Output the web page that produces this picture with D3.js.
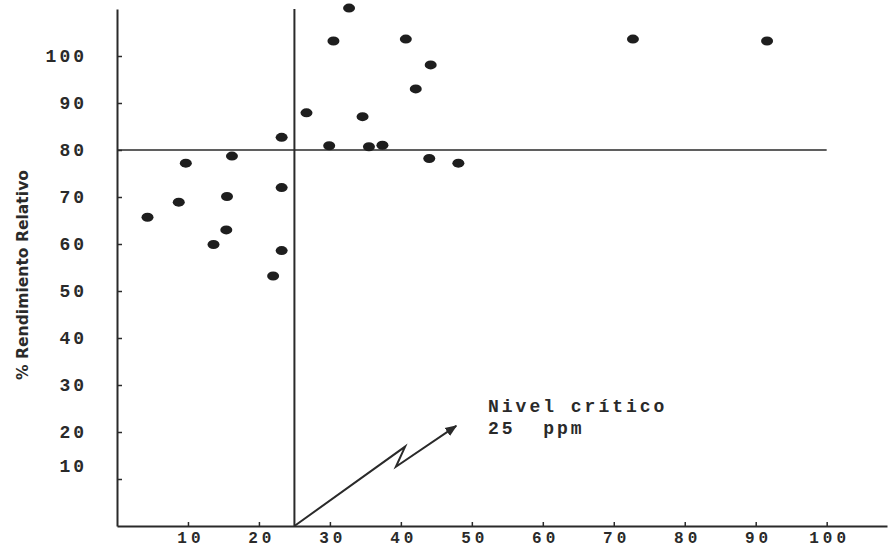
<!DOCTYPE html>
<html>
<head>
<meta charset="utf-8">
<script src="https://cdn.jsdelivr.net/npm/d3@7"></script>
<style>
  body { margin: 0; background: #fff; }
  .tickText { font-family: "Liberation Mono", monospace; font-weight: bold; font-size: 18px; letter-spacing: 3px; fill: #2a2a2a; }
  .xText { font-size: 16px; letter-spacing: 4px; }
</style>
</head>
<body>
<div id="scatter"></div>
<script>
// Data (ppm in soil vs relative yield %)
var ppm =      [4.3, 8.7, 9.7, 13.6, 15.4, 15.5, 16.2, 23.2, 23.2, 23.2, 22.0,
                32.7, 30.5, 40.7, 44.2, 42.1, 26.7, 34.6, 29.9, 35.5, 37.4, 44.0, 48.1,
                72.7, 91.6];
var rendimiento = [65.7, 68.9, 77.2, 59.9, 63.0, 70.1, 78.7, 82.7, 72.0, 58.6, 53.2,
                110.2, 103.2, 103.6, 98.1, 93.0, 87.9, 87.1, 80.9, 80.7, 81.0, 78.2, 77.2,
                103.6, 103.2];
var xTicks = [10, 20, 30, 40, 50, 60, 70, 80, 90, 100];
var yTicks = [10, 20, 30, 40, 50, 60, 70, 80, 90, 100];
var nivelCritico = 25;
var rendimientoCritico = 80;
// zig-zag arrow pointing to the label (data units)
var arrowX = [25, 40.6, 39.3, 47.8];
var arrowY = [0, 16.9, 12.6, 21.3];

var svgWidth = 889;
var svgHeight = 550;

var svg = d3.select("#scatter")
  .append("svg")
  .attr("width", svgWidth)
  .attr("height", svgHeight);

var xScale = d3.scaleLinear().domain([0, 108.5]).range([117, 887]);
var yScale = d3.scaleLinear().domain([0, 110]).range([526, 9]);

var ink = "#2a2a2a";

// axes, ticks pointing inward
var xAxis = svg.append("g")
  .attr("transform", `translate(0, ${yScale(0)})`)
  .call(d3.axisBottom(xScale).tickValues(xTicks).tickSizeInner(-4).tickSizeOuter(0).tickPadding(6));

var yAxis = svg.append("g")
  .attr("transform", `translate(${xScale(0)}, 0)`)
  .call(d3.axisLeft(yScale).tickValues(yTicks).tickSizeInner(-5).tickSizeOuter(0).tickPadding(30));

[xAxis, yAxis].forEach(function(ax) {
  ax.select(".domain").attr("stroke", ink).attr("stroke-width", 2);
  ax.selectAll(".tick line").attr("stroke", ink).attr("stroke-width", 1.5);
  ax.selectAll(".tick text").attr("class", "tickText").attr("fill", null);
});
xAxis.selectAll(".tick text").classed("xText", true).attr("dx", "0.15em");
// the "10" label sits a bit high in the original figure
yAxis.selectAll(".tick text").filter(d => d === 10).attr("dy", "-0.4em");

// critical level lines
svg.append("line")
  .attr("x1", xScale(nivelCritico)).attr("x2", xScale(nivelCritico))
  .attr("y1", yScale(110)).attr("y2", yScale(0))
  .attr("stroke", ink).attr("stroke-width", 2);

svg.append("line")
  .attr("x1", xScale(0)).attr("x2", xScale(100))
  .attr("y1", yScale(rendimientoCritico)).attr("y2", yScale(rendimientoCritico))
  .attr("stroke", ink).attr("stroke-width", 1.5);

// points
svg.selectAll("ellipse.pt")
  .data(ppm.map((p, i) => ({ x: p, y: rendimiento[i] })))
  .enter()
  .append("ellipse")
  .attr("class", "pt")
  .attr("cx", d => xScale(d.x))
  .attr("cy", d => yScale(d.y))
  .attr("rx", 6)
  .attr("ry", 4.5)
  .attr("fill", "#1e1e1e");

// arrow
svg.append("defs").append("marker")
  .attr("id", "head")
  .attr("viewBox", "0 0 10 10")
  .attr("refX", 9).attr("refY", 5)
  .attr("markerWidth", 6).attr("markerHeight", 6)
  .attr("orient", "auto")
  .append("path")
  .attr("d", "M0,1 L10,5 L0,9 Z")
  .attr("fill", ink);

svg.append("path")
  .attr("d", d3.line()(arrowX.map((x, i) => [xScale(x), yScale(arrowY[i])])))
  .attr("fill", "none")
  .attr("stroke", ink)
  .attr("stroke-width", 2)
  .attr("marker-end", "url(#head)");

// annotation
var note = svg.append("text")
  .attr("class", "tickText")
  .attr("style", "white-space: pre");
note.append("tspan").attr("x", 488).attr("y", 412).text("Nivel crítico");
note.append("tspan").attr("x", 488).attr("y", 434).text("25  ppm");

// y label
svg.append("text")
  .attr("transform", `translate(28, 275) rotate(-90)`)
  .attr("text-anchor", "middle")
  .attr("font-family", "DejaVu Sans Condensed, DejaVu Sans, sans-serif")
  .attr("font-weight", "bold")
  .attr("font-size", 15)
  .attr("textLength", 210)
  .attr("lengthAdjust", "spacingAndGlyphs")
  .attr("fill", ink)
  .text("% Rendimiento Relativo");
</script>
</body>
</html>
